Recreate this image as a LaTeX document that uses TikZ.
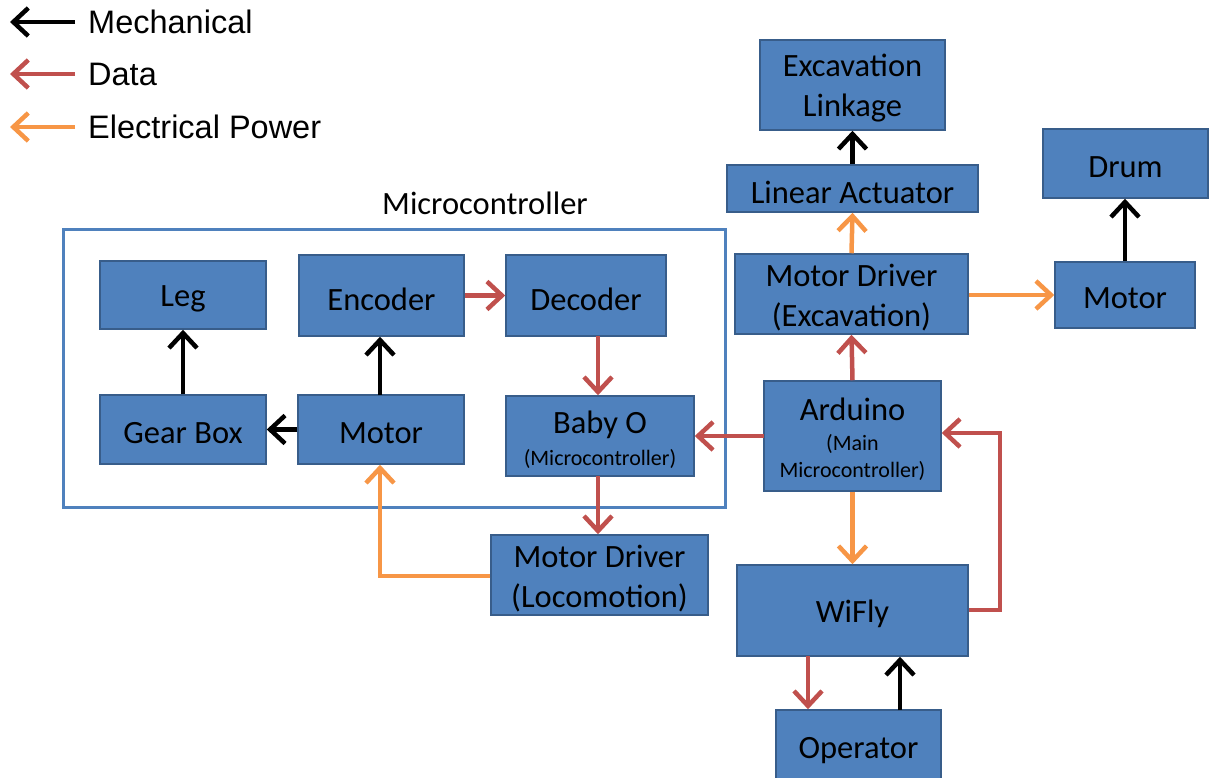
\documentclass[tikz,border=0pt]{standalone}
\usepackage{fontspec}
\setmainfont{Carlito}
\newfontfamily\legendfont{Liberation Sans}
\usetikzlibrary{arrows.meta}
\definecolor{boxfill}{HTML}{4F81BD}
\definecolor{boxline}{HTML}{385D8A}
\definecolor{datac}{HTML}{C0504D}
\definecolor{powc}{HTML}{F79646}
\tikzset{
  box/.style={draw=boxline, line width=1.5pt, fill=boxfill, inner sep=0pt},
  boxtext/.style={inner sep=0pt, align=center, font=\fontsize{32.5}{40}\selectfont, text=black},
  conn/.style={line width=4.5pt, -{Straight Barb[length=15pt,width=28pt,line width=4.5pt]}},
  mech/.style={conn, black},
  datal/.style={conn, datac},
  powl/.style={conn, powc}
}
\newcommand{\sm}{\fontsize{22}{27}\selectfont}
\newcommand{\bx}[6]{\node[box, minimum width=#3pt-#1pt, minimum height=#4pt-#2pt] (#5) at ({(#1+#3)/2},{(#2+#4)/2}) {};
  \node[boxtext] (#5-t) at ([yshift=-3.5pt]#5.center) {#6};}
\begin{document}
\begin{tikzpicture}[x=1pt,y=-1pt]
\useasboundingbox (0,0) rectangle (1211,778);
% legend
\coordinate (l1a) at (75,22); \coordinate (l1b) at (10,22);
\coordinate (l2a) at (75,74); \coordinate (l2b) at (10,74);
\coordinate (l3a) at (75,127); \coordinate (l3b) at (10,127);
\draw[mech] (l1a) -- (l1b);
\draw[datal] (l2a) -- (l2b);
\draw[powl] (l3a) -- (l3b);
\tikzset{leg/.style={anchor=west, font=\legendfont\fontsize{32.5}{40}\selectfont, inner sep=0}}
\node[leg] (t1) at (88,22) {Mechanical};
\node[leg] (t2) at (88,74) {Data};
\node[leg] (t3) at (88,127) {Electrical Power};
% frame
\node[draw=boxfill, line width=3pt, minimum width=662pt, minimum height=277pt, inner sep=0] (frame) at (394,368.5) {};
\node[font=\fontsize{32.5}{40}\selectfont] (frlabel) at (485,203) {Microcontroller};
% boxes
\bx{760}{40}{945}{130}{exc}{Excavation\\Linkage}
\bx{727}{165}{978}{212}{lin}{Linear Actuator}
\bx{1043}{129}{1208}{198}{drum}{Drum}
\bx{735}{254}{968}{334}{mdx}{Motor Driver\\(Excavation)}
\bx{1055}{262}{1195}{328}{motr}{Motor}
\bx{764}{381}{941}{491}{ard}{Arduino\\[-10pt]{\sm (Main}\\[-13pt]{\sm Microcontroller)}}
\bx{737}{565}{968}{656}{wifly}{WiFly}
\bx{776}{710}{941}{785}{oper}{Operator}
\bx{100}{261}{266}{329}{leg}{Leg}
\bx{299}{255}{464}{336}{enc}{Encoder}
\bx{506}{255}{666}{336}{dec}{Decoder}
\bx{100}{395}{266}{464}{gear}{Gear Box}
\bx{298}{395}{464}{464}{motl}{Motor}
\bx{506}{396}{694}{476}{baby}{Baby O\\[-8pt]{\sm (Microcontroller)}}
\bx{491}{535}{708}{615}{mdl}{Motor Driver\\(Locomotion)}
% connectors
\draw[mech] (lin.north) -- (exc.south);
\draw[powl] (mdx.north) -- (lin.south);
\draw[powl] (mdx.east |- motr.west) -- (motr.west);
\draw[mech] (motr.north) -- (drum.south -| motr.north);
\draw[datal] (ard.north) -- (mdx.south);
\coordinate (aw) at (764,436);
\draw[datal] (aw) -- (aw -| baby.east);
\draw[powl] (ard.south) -- (wifly.north);
\coordinate (wr) at (1000,610);
\coordinate (ar) at (1000,433);
\draw[datal] (wifly.east |- wr) -- (wr) -- (ar) -- (ar -| ard.east);
\coordinate (wo1) at (808,656);
\draw[datal] (wo1) -- (wo1 |- oper.north);
\coordinate (ow1) at (900,710);
\draw[mech] (ow1) -- (ow1 |- wifly.south);
\draw[datal] (enc.east) -- (dec.west);
\coordinate (d1) at (598,336);
\draw[datal] (d1) -- (d1 |- baby.north);
\coordinate (b1) at (598,476);
\draw[datal] (b1) -- (b1 |- mdl.north);
\coordinate (mlc) at (380,576);
\draw[powl] (mdl.west |- mlc) -- (mlc) -- (mlc |- motl.south);
\coordinate (m1) at (380,395);
\draw[mech] (m1) -- (m1 |- enc.south);
\draw[mech] (motl.west) -- (gear.east);
\draw[mech] (gear.north) -- (leg.south);
\end{tikzpicture}
\end{document}
